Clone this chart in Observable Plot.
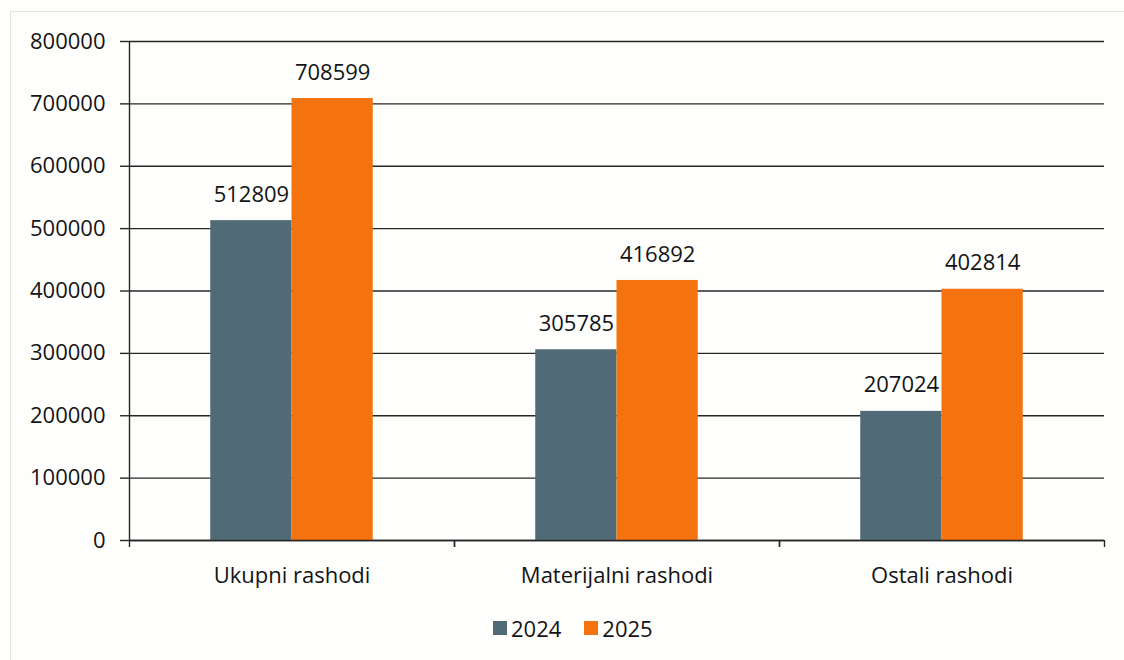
<!DOCTYPE html>
<html>
<head>
<meta charset="utf-8">
<script src="https://cdn.jsdelivr.net/npm/d3@7"></script>
<script src="https://cdn.jsdelivr.net/npm/@observablehq/plot@0.6"></script>
<style>
  html, body { margin: 0; padding: 0; background: #fefefd; }
  #wrap { position: relative; width: 1124px; height: 660px; overflow: hidden; font-family: "Open Sans", sans-serif; }
  #frame { position: absolute; left: 10px; top: 11px; right: -5px; bottom: -5px; border-top: 1px solid #e2e2e2; border-left: 1px solid #e2e2e2; }
  #chart { position: absolute; left: 0; top: 0; }
  #legend { position: absolute; left: 493px; top: 613px; display: flex; align-items: center; font-size: 22px; color: #141414; }
  .item { display: flex; align-items: center; margin-right: 23px; }
  .sw { width: 14px; height: 14px; margin-right: 4px; }
</style>
</head>
<body>
<div id="wrap"><div id="frame"></div><div id="chart"></div><div id="legend"></div></div>
<script>
const categories = ["Ukupni rashodi", "Materijalni rashodi", "Ostali rashodi"];
const years = [2024, 2025];
const values2024 = [512809, 305785, 207024];
const values2025 = [708599, 416892, 402814];
const yTicks = [0, 100000, 200000, 300000, 400000, 500000, 600000, 700000, 800000];
const colors = ["#506b75", "#f5730f"];

const data = [];
categories.forEach((c, i) => {
  data.push({category: c, year: years[0], value: values2024[i]});
  data.push({category: c, year: years[1], value: values2025[i]});
});

const xMin = years[0] - 1, xMax = years[1] + 2;
const ink = "#262626";

const plot = Plot.plot({
  width: 1124,
  height: 600,
  marginTop: 41,
  marginLeft: 128,
  marginRight: 19,
  marginBottom: 60,
  style: {fontFamily: "Open Sans, sans-serif", fontSize: "22px", color: "#141414", background: "transparent"},
  fx: {domain: categories, padding: 0},
  x: {domain: [xMin, xMax]},
  y: {domain: [0, 800000]},
  color: {domain: years, range: colors},
  marks: [
    Plot.ruleY(yTicks, {stroke: ink, strokeWidth: 1.4}),
    Plot.rectY(data, {fx: "category", x: "year", interval: 1, y: "value", fill: d => d.year, inset: 0}),
    Plot.ruleY([0], {stroke: ink, strokeWidth: 1.4}),
    Plot.ruleX([xMin], {fx: () => categories[0], y1: 0, y2: 800000, stroke: ink, strokeWidth: 1.4}),
    Plot.axisX({ticks: [xMin, xMax], tickFormat: () => "", tickSize: 7, stroke: ink, strokeWidth: 1.4, label: null}),
    Plot.axisY({ticks: yTicks, tickSize: 9, tickPadding: 15, tickFormat: d3.format("d"), stroke: ink, strokeWidth: 1.4, label: null}),
    Plot.axisFx({anchor: "bottom", tickSize: 0, tickPadding: 27, label: null}),
    Plot.text(data, {fx: "category", x: d => d.year + 0.5, y: "value", text: d => String(d.value), dy: -26, lineAnchor: "middle", fill: "#141414", fontSize: 22})
  ]
});
document.getElementById("chart").appendChild(plot);

const legend = document.getElementById("legend");
years.forEach((y, i) => {
  const item = document.createElement("div");
  item.className = "item";
  const sw = document.createElement("div");
  sw.className = "sw";
  sw.style.background = colors[i];
  const t = document.createElement("span");
  t.textContent = y;
  item.appendChild(sw); item.appendChild(t);
  legend.appendChild(item);
});
</script>
</body>
</html>
